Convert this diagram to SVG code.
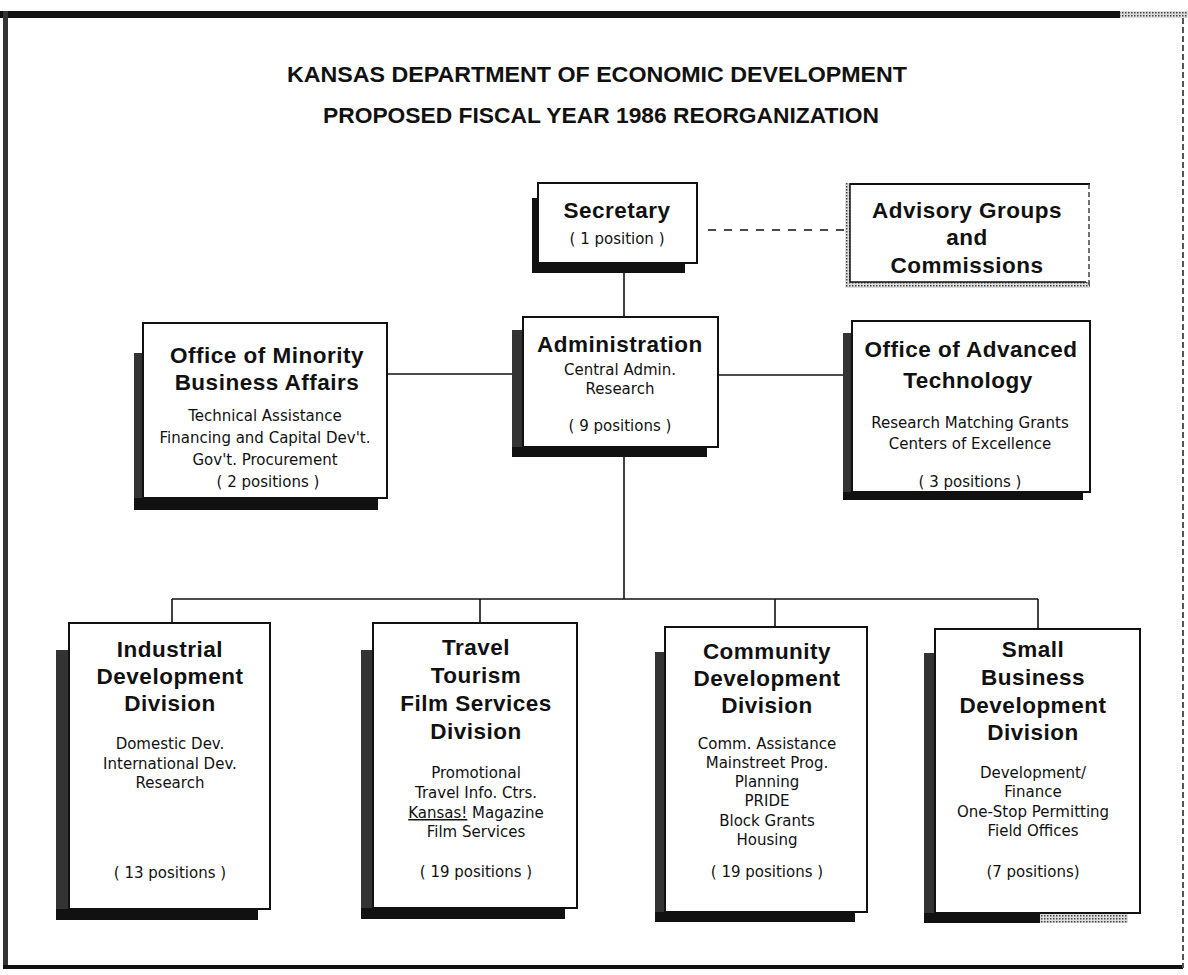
<svg xmlns="http://www.w3.org/2000/svg" width="1188" height="975" viewBox="0 0 1188 975">
<style>
.box{fill:#fff;stroke:#111;stroke-width:2}
.sh{fill:#111}
.shl{fill:#333}
.h{font-family:"Liberation Sans",Arial,sans-serif;font-weight:bold;font-size:22.5px;letter-spacing:0.5px;fill:#111;text-anchor:middle}
.d{font-family:"DejaVu Sans","Liberation Sans",sans-serif;font-size:15px;fill:#111;text-anchor:middle}
.t{font-family:"Liberation Sans",Arial,sans-serif;font-weight:bold;font-size:22px;fill:#111;text-anchor:middle}
.ln{stroke:#111;stroke-width:1.6;fill:none}
</style>
<defs>
<pattern id="stip" width="3" height="3" patternUnits="userSpaceOnUse">
<rect width="3" height="3" fill="#ddd"/>
<rect width="1.5" height="1.5" fill="#444"/>
</pattern>
</defs>
<rect width="1188" height="975" fill="#fff"/>
<g id="frame">
<rect x="0" y="11" width="1120" height="7" fill="#111"/>
<rect x="1120" y="11" width="68" height="7" fill="url(#stip)"/>
<rect x="3" y="11" width="5" height="958" fill="#333"/>
<rect x="3" y="965" width="1180" height="4" fill="#111"/>
<line x1="1183" y1="18" x2="1183" y2="968" stroke="#555" stroke-width="2" stroke-dasharray="6 3"/>
</g>
<g id="title">
<text class="t" x="597" y="82" textLength="620" lengthAdjust="spacingAndGlyphs">KANSAS DEPARTMENT OF ECONOMIC DEVELOPMENT</text>
<text class="t" x="601" y="123" textLength="556" lengthAdjust="spacingAndGlyphs">PROPOSED FISCAL YEAR 1986 REORGANIZATION</text>
</g>
<g id="connectors">
<line class="ln" x1="624" y1="263" x2="624" y2="317"/>
<line class="ln" x1="708" y1="230" x2="845" y2="230" stroke-width="2" stroke-dasharray="8 8"/>
<line class="ln" x1="387" y1="374" x2="523" y2="374"/>
<line class="ln" x1="718" y1="375" x2="852" y2="375"/>
<line class="ln" x1="624" y1="447" x2="624" y2="599"/>
<line class="ln" x1="172" y1="599" x2="1038" y2="599"/>
<line class="ln" x1="172" y1="599" x2="172" y2="623"/>
<line class="ln" x1="480" y1="599" x2="480" y2="623"/>
<line class="ln" x1="775" y1="599" x2="775" y2="627"/>
<line class="ln" x1="1038" y1="599" x2="1038" y2="629"/>
</g>
<g id="secretary">
<rect class="sh" x="532" y="198" width="153" height="75"/>
<rect class="box" x="538" y="183" width="159" height="80"/>
<text class="h" x="617" y="218">Secretary</text>
<text class="d" x="617" y="244">( 1 position )</text>
</g>
<g id="advisory">
<rect x="845" y="183" width="245" height="105" fill="url(#stip)"/>
<rect x="850" y="183" width="240" height="99" fill="#fff"/>
<line x1="850" y1="184" x2="1090" y2="184" stroke="#111" stroke-width="2"/>
<line x1="850" y1="282" x2="1086" y2="282" stroke="#111" stroke-width="1.5"/>
<line x1="850" y1="184" x2="850" y2="282" stroke="#111" stroke-width="1.5"/>
<line x1="1089" y1="184" x2="1089" y2="288" stroke="#444" stroke-width="1.5" stroke-dasharray="5 3"/>
<text class="h" x="967" y="218">Advisory Groups</text>
<text class="h" x="967" y="245">and</text>
<text class="h" x="967" y="273">Commissions</text>
</g>
<g id="administration">
<rect class="sh" x="512" y="330" width="195" height="127"/>
<rect class="shl" x="512" y="330" width="11" height="117"/>
<rect class="box" x="523" y="317" width="195" height="130"/>
<text class="h" x="620" y="352">Administration</text>
<text class="d" x="620" y="375">Central Admin.</text>
<text class="d" x="620" y="394">Research</text>
<text class="d" x="620" y="431">( 9 positions )</text>
</g>
<g id="minority">
<rect class="sh" x="134" y="353" width="244" height="157"/>
<rect class="shl" x="134" y="353" width="9" height="145"/>
<rect class="box" x="143" y="323" width="244" height="175"/>
<text class="h" x="267" y="363">Office of Minority</text>
<text class="h" x="267" y="390">Business Affairs</text>
<text class="d" x="265" y="421">Technical Assistance</text>
<text class="d" x="265" y="443">Financing and Capital Dev't.</text>
<text class="d" x="265" y="465">Gov't. Procurement</text>
<text class="d" x="268" y="487">( 2 positions )</text>
</g>
<g id="advanced">
<rect class="sh" x="843" y="333" width="240" height="167"/>
<rect class="shl" x="843" y="333" width="9" height="159"/>
<rect class="box" x="852" y="321" width="238" height="171"/>
<text class="h" x="971" y="357">Office of Advanced</text>
<text class="h" x="968" y="388">Technology</text>
<text class="d" x="970" y="428">Research Matching Grants</text>
<text class="d" x="970" y="449">Centers of Excellence</text>
<text class="d" x="970" y="487">( 3 positions )</text>
</g>
<g id="industrial">
<rect class="sh" x="56" y="650" width="202" height="270"/>
<rect class="shl" x="56" y="650" width="13" height="259"/>
<rect class="box" x="69" y="623" width="201" height="286"/>
<text class="h" x="170" y="657">Industrial</text>
<text class="h" x="170" y="684">Development</text>
<text class="h" x="170" y="711">Division</text>
<text class="d" x="170" y="749">Domestic Dev.</text>
<text class="d" x="170" y="769">International Dev.</text>
<text class="d" x="170" y="788">Research</text>
<text class="d" x="170" y="878">( 13 positions )</text>
</g>
<g id="travel">
<rect class="sh" x="361" y="650" width="204" height="269"/>
<rect class="shl" x="361" y="650" width="12" height="258"/>
<rect class="box" x="373" y="623" width="204" height="285"/>
<text class="h" x="476" y="655">Travel</text>
<text class="h" x="476" y="683">Tourism</text>
<text class="h" x="476" y="711">Film Services</text>
<text class="h" x="476" y="739">Division</text>
<text class="d" x="476" y="778">Promotional</text>
<text class="d" x="476" y="798">Travel Info. Ctrs.</text>
<text class="d" x="476" y="818"><tspan text-decoration="underline">Kansas!</tspan> Magazine</text>
<text class="d" x="476" y="837">Film Services</text>
<text class="d" x="476" y="877">( 19 positions )</text>
</g>
<g id="community">
<rect class="sh" x="655" y="652" width="200" height="270"/>
<rect class="shl" x="655" y="652" width="10" height="260"/>
<rect class="box" x="665" y="627" width="202" height="285"/>
<text class="h" x="767" y="659">Community</text>
<text class="h" x="767" y="686">Development</text>
<text class="h" x="767" y="713">Division</text>
<text class="d" x="767" y="749">Comm. Assistance</text>
<text class="d" x="767" y="768">Mainstreet Prog.</text>
<text class="d" x="767" y="787">Planning</text>
<text class="d" x="767" y="806">PRIDE</text>
<text class="d" x="767" y="826">Block Grants</text>
<text class="d" x="767" y="845">Housing</text>
<text class="d" x="767" y="877">( 19 positions )</text>
</g>
<g id="smallbusiness">
<rect class="sh" x="924" y="653" width="204" height="270"/>
<rect class="shl" x="924" y="653" width="11" height="260"/>
<rect x="1040" y="913" width="88" height="10" fill="url(#stip)"/>
<rect class="box" x="935" y="629" width="205" height="284"/>
<text class="h" x="1033" y="657">Small</text>
<text class="h" x="1033" y="685">Business</text>
<text class="h" x="1033" y="713">Development</text>
<text class="h" x="1033" y="740">Division</text>
<text class="d" x="1033" y="778">Development/</text>
<text class="d" x="1033" y="797">Finance</text>
<text class="d" x="1033" y="817">One-Stop Permitting</text>
<text class="d" x="1033" y="836">Field Offices</text>
<text class="d" x="1033" y="877">(7 positions)</text>
</g>
</svg>
